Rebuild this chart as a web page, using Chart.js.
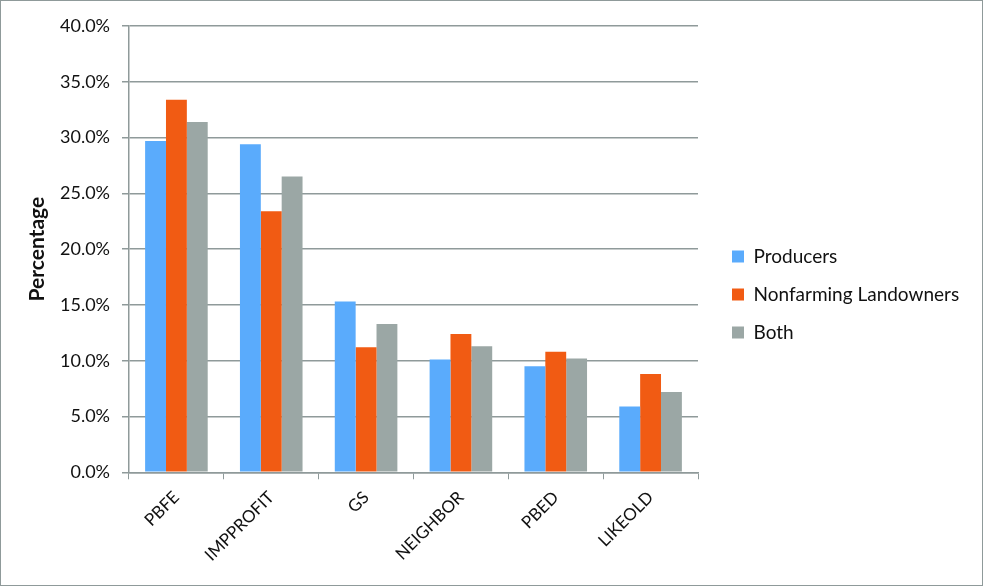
<!DOCTYPE html>
<html lang="en">
<head>
    <meta charset="UTF-8">
    <title>Percentage by Reason</title>
    <script src="https://cdn.jsdelivr.net/npm/chart.js"></script>
    <style>
        html, body { margin: 0; padding: 0; background: #fff; }
        #wrap {
            width: 981px; height: 584px;
            border: 1px solid #8f9a9a;
            position: relative;
        }
    </style>
</head>
<body>
    <div id="wrap">
        <canvas id="myChart" width="981" height="584"></canvas>
    </div>
    <script>
        const categories = ['PBFE', 'IMPPROFIT', 'GS', 'NEIGHBOR', 'PBED', 'LIKEOLD'];
        const producers = [29.7, 29.4, 15.3, 10.1, 9.5, 5.9];
        const nonfarming = [33.4, 23.4, 11.2, 12.4, 10.8, 8.8];
        const both = [31.4, 26.5, 13.3, 11.3, 10.2, 7.2];
        const yTicks = [0, 5, 10, 15, 20, 25, 30, 35, 40];

        const axisColor = '#8f9a9a';
        const font = 'Lato, "Open Sans", sans-serif';

        // right legend is capped at a quarter of the width by default, widen it
        // and nudge the items so there is a gap after the plot area
        const legendWidth = {
            id: 'legendWidth',
            afterInit(chart) {
                const legend = chart.legend;
                const fit = legend.fit;
                const draw = legend.draw;
                legend.fit = function () {
                    fit.call(this);
                    this.width = 284;
                };
                legend.draw = function () {
                    this.ctx.save();
                    this.ctx.translate(15, -5);
                    draw.call(this);
                    this.ctx.restore();
                };
            }
        };

        const ctx = document.getElementById('myChart').getContext('2d');
        const chart = new Chart(ctx, {
            type: 'bar',
            data: {
                labels: categories,
                datasets: [
                    { label: 'Producers', data: producers, backgroundColor: '#5aabfc' },
                    { label: 'Nonfarming Landowners', data: nonfarming, backgroundColor: '#f15b13' },
                    { label: 'Both', data: both, backgroundColor: '#9ba7a5' }
                ]
            },
            plugins: [legendWidth],
            options: {
                responsive: false,
                animation: false,
                layout: { padding: { top: 25, right: 0, left: 26, bottom: 12 } },
                datasets: {
                    bar: { barPercentage: 1.0, categoryPercentage: 0.66 }
                },
                plugins: {
                    tooltip: { enabled: false },
                    legend: {
                        position: 'right',
                        labels: {
                            boxWidth: 12,
                            boxHeight: 12,
                            padding: 19,
                            color: '#111',
                            font: { family: font, size: 19 }
                        }
                    }
                },
                scales: {
                    x: {
                        grid: {
                            drawOnChartArea: false,
                            drawTicks: true,
                            tickLength: 7,
                            color: axisColor
                        },
                        border: { color: axisColor, width: 1.5 },
                        ticks: {
                            minRotation: 45,
                            maxRotation: 45,
                            color: '#111',
                            font: { family: font, size: 17 },
                            padding: 8
                        }
                    },
                    y: {
                        min: 0,
                        max: 40,
                        afterBuildTicks: axis => { axis.ticks = yTicks.map(v => ({ value: v })); },
                        grid: {
                            color: axisColor,
                            lineWidth: 1.5,
                            tickLength: 7
                        },
                        border: { color: axisColor, width: 1.5 },
                        ticks: {
                            color: '#111',
                            font: { family: font, size: 18 },
                            padding: 12,
                            callback: v => v.toFixed(1) + '%'
                        },
                        title: {
                            display: true,
                            text: 'Percentage',
                            color: '#111',
                            font: { family: font, size: 21, weight: 'bold', lineHeight: 1 },
                            padding: { top: 0, bottom: 0 }
                        }
                    }
                }
            }
        });
    </script>
</body>
</html>
